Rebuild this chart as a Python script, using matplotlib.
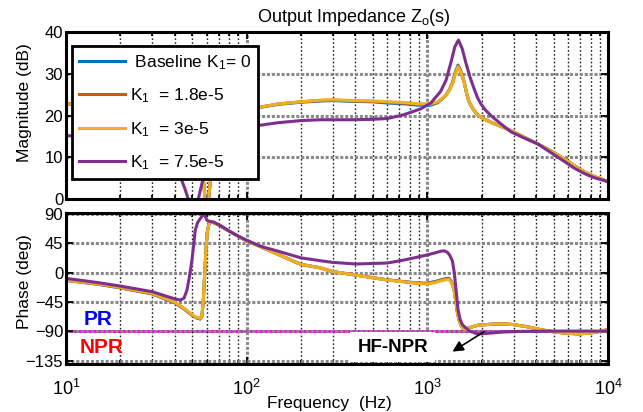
import matplotlib.pyplot as plt
import numpy as np
from matplotlib.lines import Line2D
from matplotlib.ticker import LogLocator, NullFormatter

plt.rcParams['font.family'] = ['Liberation Sans', 'DejaVu Sans']
plt.rcParams['mathtext.fontset'] = 'custom'
plt.rcParams['mathtext.rm'] = 'Liberation Sans'
plt.rcParams['mathtext.default'] = 'regular'

# ---- magnitude, baseline / K1 = 1.8e-5 / K1 = 3e-5 (Hz, dB) ----
f_mag = [10, 15, 20, 30, 40, 47, 52, 55, 57.5, 58.5,
         60, 61, 62, 63.5, 67, 72, 80, 90, 100, 115,
         150, 200, 256, 300, 391, 500, 603, 750, 885, 1045,
         1142, 1265, 1330, 1384, 1430, 1479, 1530, 1600, 1650, 1704,
         1800, 1895, 2050, 2248, 2555, 2902, 3400, 4083, 4800, 5734,
         6500, 7398, 8400, 9554, 10000]
mag_k30 = [22.8, 22.6, 22.3, 21.6, 20.2, 18.0, 15.0, 11.0, 5.0, 1.5,
           -8.0, -3.0, 1.5, 5.5, 10.5, 15.0, 18.0, 19.8, 20.9, 21.9,
           22.8, 23.3, 23.7, 23.8, 23.6, 23.5, 23.3, 23.1, 22.8, 22.8,
           23.3, 24.8, 26.2, 27.9, 30.0, 31.7, 30.5, 27.9, 25.3, 23.2,
           21.4, 20.2, 19.2, 18.4, 17.4, 16.4, 14.9, 13.2, 11.6, 9.6,
           8.0, 6.5, 5.4, 4.5, 4.2]
mag_k18 = [22.8, 22.6, 22.3, 21.6, 20.2, 18.0, 15.0, 11.0, 5.0, 1.5,
           -8.0, -3.0, 1.5, 5.5, 10.5, 15.0, 18.0, 19.8, 20.9, 21.9,
           22.8, 23.3, 23.6, 23.7, 23.5, 23.4, 23.2, 23.0, 22.7, 22.7,
           23.2, 24.8, 26.3, 28.0, 30.2, 31.9, 30.6, 27.9, 25.3, 23.2,
           21.4, 20.2, 19.2, 18.4, 17.4, 16.4, 14.9, 13.2, 11.6, 9.6,
           8.0, 6.5, 5.4, 4.5, 4.2]
mag_base = [22.8, 22.6, 22.3, 21.6, 20.2, 18.0, 15.0, 11.0, 5.0, 1.5,
            -8.0, -3.0, 1.5, 5.5, 10.5, 15.0, 18.0, 19.8, 20.9, 21.9,
            22.7, 23.2, 23.5, 23.6, 23.4, 23.3, 23.0, 22.8, 22.5, 22.5,
            23.1, 24.8, 26.4, 28.2, 30.4, 32.1, 30.7, 28.0, 25.3, 23.2,
            21.4, 20.2, 19.2, 18.4, 17.4, 16.4, 14.9, 13.2, 11.6, 9.6,
            8.0, 6.5, 5.4, 4.5, 4.2]

# ---- magnitude, K1 = 7.5e-5 ----
f_mag75 = [10, 15, 20, 30, 38, 43, 45.5, 47.5, 50, 52,
           54, 57.5, 62, 67, 75, 85, 100, 115, 150, 200,
           256, 391, 500, 603, 740, 918, 1045, 1185, 1270, 1350,
           1420, 1487, 1560, 1633, 1720, 1816, 1900, 1978, 2100, 2248,
           2555, 2902, 3400, 4083, 4800, 5734, 6500, 7398, 8400, 9554,
           10000]
mag_k75 = [15.2, 14.8, 14.2, 12.5, 9.0, 5.3, 2.5, 0.0, -6.0, -3.0,
           0.0, 5.0, 9.0, 12.0, 14.5, 16.0, 17.0, 17.6, 18.3, 18.8,
           19.0, 19.0, 19.1, 19.3, 20.2, 21.6, 23.0, 25.8, 28.5, 32.7,
           36.5, 38.1, 36.0, 32.7, 29.3, 26.4, 24.2, 22.8, 21.3, 20.0,
           18.0, 16.1, 14.7, 13.2, 11.2, 9.0, 7.4, 6.1, 5.1, 4.4,
           4.1]

# ---- phase, baseline / K1 = 1.8e-5 / K1 = 3e-5 (Hz, deg) ----
f_ph = [10, 15, 20, 30, 40, 45, 50, 53, 55.3, 56.5,
        57.5, 58.5, 59.5, 60.5, 62, 63.5, 67, 72, 80, 90,
        100, 115, 150, 199, 256, 298, 401, 601, 881, 1000,
        1100, 1185, 1260, 1318, 1360, 1406, 1440, 1469, 1500, 1532,
        1580, 1633, 1700, 1900, 2300, 2650, 3000, 3600, 4200, 4830,
        5700, 6800, 8000, 9000, 10000]
ph_k30 = [-11.2, -17.0, -22.4, -31.6, -45.0, -54.5, -64.5, -68.5, -70.0, -66.0,
          -45.0, -5.0, 35.0, 62.0, 76.0, 78.0, 76.0, 71.5, 64.0, 56.0,
          49.0, 42.0, 28.0, 13.0, 7.5, 2.0, -3.5, -11.2, -16.2, -17.3,
          -15.0, -12.5, -10.8, -10.1, -15.0, -26.5, -45.0, -62.0, -73.0, -80.0,
          -86.0, -87.0, -84.5, -80.5, -78.8, -78.5, -79.5, -83.0, -87.0, -90.0,
          -92.5, -93.8, -92.5, -90.0, -87.0]
ph_k18 = [-11.4, -17.3, -22.8, -32.0, -45.5, -55.0, -65.0, -69.0, -70.5, -66.5,
          -45.0, -5.0, 35.0, 62.0, 76.0, 78.0, 76.0, 71.5, 64.0, 56.0,
          49.0, 42.0, 28.0, 13.0, 7.5, 2.0, -3.5, -11.0, -16.0, -16.8,
          -14.3, -11.8, -10.0, -9.3, -14.3, -26.0, -45.0, -62.0, -73.0, -80.0,
          -86.0, -87.0, -84.5, -80.5, -78.8, -78.5, -79.5, -83.0, -87.0, -90.0,
          -92.5, -93.8, -92.5, -90.0, -87.0]
ph_base = [-11.6, -17.6, -23.2, -32.5, -46.0, -55.5, -65.5, -69.5, -71.0, -67.0,
           -45.0, -5.0, 35.0, 62.0, 76.0, 78.0, 76.0, 71.5, 64.0, 56.0,
           49.0, 42.0, 28.0, 13.0, 7.5, 2.0, -3.5, -10.8, -15.6, -16.0,
           -13.5, -11.0, -9.2, -8.5, -13.5, -25.5, -45.0, -62.0, -73.0, -80.0,
           -86.0, -87.0, -84.5, -80.5, -78.8, -78.5, -79.5, -83.0, -87.0, -90.0,
           -92.5, -93.8, -92.5, -90.0, -87.0]

# ---- phase, K1 = 7.5e-5 ----
f_ph75 = [10, 15, 20, 30, 36, 40, 42.9, 45, 46.7, 48.3,
          49.8, 51, 51.9, 53.5, 55.3, 57, 58.4, 59.2, 60.2, 62,
          65.5, 72, 80, 90, 100, 120, 150, 199, 256, 298,
          401, 601, 740, 881, 1000, 1100, 1185, 1239, 1290, 1330,
          1377, 1410, 1436, 1479, 1520, 1566, 1703, 1895, 2250, 2600,
          3200, 5000, 10000]
ph_k75 = [-8.6, -15.0, -20.4, -29.0, -36.0, -40.0, -41.8, -39.0, -27.0, -5.0,
          19.4, 45.0, 65.0, 77.0, 83.0, 88.0, 90.0, 86.0, 80.7, 79.0,
          78.0, 72.0, 64.0, 56.0, 50.0, 40.5, 33.0, 23.0, 18.5, 16.0,
          13.5, 15.0, 19.5, 24.0, 27.5, 30.5, 33.0, 33.7, 31.5, 27.0,
          18.0, 0.0, -21.0, -57.0, -72.0, -80.0, -89.0, -94.0, -92.5, -91.0,
          -90.0, -89.5, -89.5]

labels = [' Baseline K$_1$= 0', 'K$_1$  = 1.8e-5', 'K$_1$  = 3e-5', 'K$_1$  = 7.5e-5']
colors = ['#0072BD', '#D95319', '#EDB120', '#7E2F8E']
pr_line = -90

fig = plt.figure(figsize=(6.43, 4.12), dpi=100)
ax1 = fig.add_axes([0.1026, 0.517, 0.843, 0.405])
ax2 = fig.add_axes([0.1026, 0.1165, 0.843, 0.3653])

lw = 2.2
ax1.plot(f_mag, mag_base, color=colors[0], lw=lw)
ax1.plot(f_mag, mag_k18, color=colors[1], lw=lw)
ax1.plot(f_mag, mag_k30, color=colors[2], lw=lw)
ax1.plot(f_mag75, mag_k75, color=colors[3], lw=lw)

ax2.axhline(pr_line, color='#FF00FF', lw=2.2, zorder=0.2)
ax2.plot(f_ph, ph_base, color=colors[0], lw=lw)
ax2.plot(f_ph, ph_k18, color=colors[1], lw=lw)
ax2.plot(f_ph, ph_k30, color=colors[2], lw=lw)
ax2.plot(f_ph75, ph_k75, color=colors[3], lw=lw)

for ax in (ax1, ax2):
    ax.set_xscale('log')
    ax.set_xlim(10, 1e4)
    ax.xaxis.set_major_locator(LogLocator(base=10, numticks=10))
    ax.xaxis.set_minor_locator(LogLocator(base=10, subs=np.arange(2, 10), numticks=20))
    ax.xaxis.set_minor_formatter(NullFormatter())
    ax.set_axisbelow(True)
    ax.grid(True, which='major', color='#8a8a8a', linestyle=(0, (1, 0.6)), linewidth=2.2)
    ax.grid(True, which='minor', axis='x', color='#202020', linestyle=(0, (1.2, 1.6)), linewidth=1.0)
    ax.tick_params(which='both', direction='in', top=True, right=True, width=1.3)
    ax.tick_params(which='major', length=5)
    ax.tick_params(which='minor', length=3)
    ax.tick_params(axis='y', labelsize=12, pad=2)
    for s in ax.spines.values():
        s.set_linewidth(2.2)

ax1.set_ylim(0, 40)
ax1.set_yticks([0, 10, 20, 30, 40])
ax1.tick_params(axis='x', labelbottom=False)
ax1.set_ylabel('Magnitude (dB)', fontsize=12.5)
ax1.yaxis.set_label_coords(-0.063, 0.58)
ax1.set_title('Output Impedance Z$_o$(s)', fontsize=13, pad=7)
ax1.title.set_x(0.531)

ax2.set_ylim(-140, 91)
ax2.set_yticks([-135, -90, -45, 0, 45, 90])
ax2.tick_params(axis='x', labelsize=13, pad=11)
ax2.set_ylabel('Phase (deg)', fontsize=12.5)
ax2.yaxis.set_label_coords(-0.063, 0.547)
ax2.set_xlabel('Frequency  (Hz)', fontsize=12.5)
ax2.xaxis.set_label_coords(0.486, -0.215)

handles = [Line2D([], [], color=c, lw=lw) for c in colors]
leg = ax1.legend(handles, labels, loc='upper left', bbox_to_anchor=(0.011, 0.916),
                 borderaxespad=0, fontsize=12.5, handlelength=2.65, handletextpad=0.3,
                 labelspacing=0.85, borderpad=0.4, fancybox=False, framealpha=1,
                 edgecolor='black')
leg.get_frame().set_linewidth(2.0)

ax2.text(15.05, -72, 'PR', color='#0000FF', fontsize=15, fontweight='bold',
         ha='center', va='center')
ax2.text(15.8, -115, 'NPR', color='#FF0000', fontsize=15, fontweight='bold',
         ha='center', va='center')
ax2.text(643, -114, 'HF-NPR', color='black', fontsize=13.5, fontweight='bold',
         ha='center', va='center', zorder=5,
         bbox=dict(facecolor='white', edgecolor='none', pad=5))
ax2.annotate('', xy=(1377, -121), xytext=(2061, -90.3), zorder=6,
             arrowprops=dict(arrowstyle='-|>', color='black', lw=1.2,
                             mutation_scale=16, shrinkA=0, shrinkB=0))

fig.savefig('out.png', dpi=100)
